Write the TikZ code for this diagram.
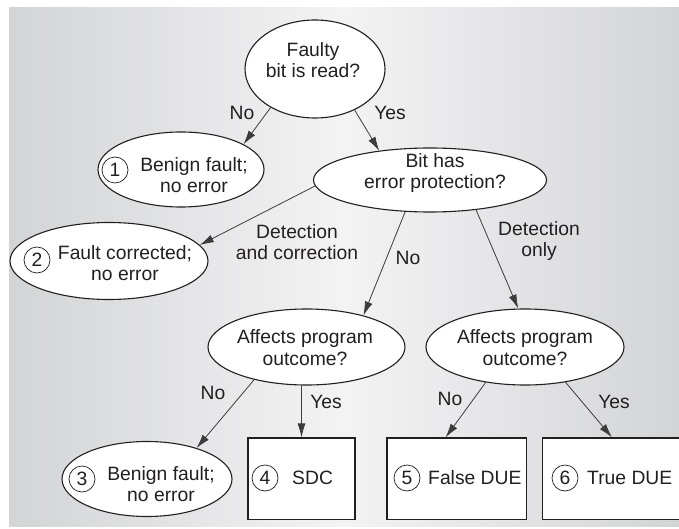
\documentclass[tikz,border=0pt]{standalone}
\usepackage{fontspec}
\setmainfont{Liberation Sans}
\usepackage{tikz}
\usetikzlibrary{calc,shapes,arrows.meta,positioning}

\definecolor{ink}{HTML}{231F20}
\definecolor{wire}{HTML}{3C3C3C}
\definecolor{panelside}{HTML}{D3D4D6}
\definecolor{panelmid}{HTML}{F3F3F4}

\tikzset{
  question/.style={ellipse,draw=ink,fill=white,line width=1.1pt,inner sep=0pt},
  outcome/.style={rectangle,draw=ink,fill=white,line width=1.1pt,inner sep=0pt},
  txt/.style={align=center,text=ink,inner sep=0pt,font=\fontsize{19.3}{21.5}\selectfont},
  lbl/.style={text=ink,inner sep=0pt,font=\fontsize{19.3}{21.5}\selectfont},
  num/.style={circle,draw=ink,line width=0.7pt,minimum size=26pt,inner sep=0pt,text=ink,font=\fontsize{19.3}{21}\selectfont},
  arr/.style={draw=wire,line width=0.8pt,-{Latex[length=14pt,width=8pt]}},
}

\begin{document}
\begin{tikzpicture}[x=1pt,y=-1pt]
  \useasboundingbox (0,0) rectangle (679,529);
  \shade[left color=panelside,right color=panelside,middle color=panelmid] (9,7.5) rectangle (679,526);

  \node[question,minimum width=140pt,minimum height=98pt] (read) at (315,69) {};
  \node[txt] (read-t) at (313,60) {Faulty\\bit is read?};
  \node[question,minimum width=166pt,minimum height=75pt] (benign1) at (181,169.5) {};
  \node[txt] (benign1-t) at (194,175) {Benign fault;\\no error};
  \node[question,minimum width=233pt,minimum height=64pt] (protect) at (430,180) {};
  \node[txt] (protect-t) at (435,173) {Bit has\\error protection?};
  \node[question,minimum width=198pt,minimum height=77pt] (corrected) at (109,261) {};
  \node[txt] (corrected-t) at (125,263) {Fault corrected;\\no error};
  \node[question,minimum width=197pt,minimum height=76pt] (affL) at (306.5,347) {};
  \node[txt] (affL-t) at (305,347.5) {Affects program\\outcome?};
  \node[question,minimum width=198pt,minimum height=76pt] (affR) at (525,347) {};
  \node[txt] (affR-t) at (525,347.5) {Affects program\\outcome?};
  \node[question,minimum width=170pt,minimum height=75pt] (benign3) at (147,479) {};
  \node[txt] (benign3-t) at (161,484) {Benign fault;\\no error};

  \node[outcome,minimum width=107pt,minimum height=81.5pt] (sdc) at (301.5,478.7) {};
  \node[outcome,minimum width=139.5pt,minimum height=81.5pt] (falsedue) at (456.7,478.7) {};
  \node[outcome,minimum width=139.5pt,minimum height=81.5pt] (truedue) at (612,478.7) {};
  \node[lbl,anchor=west] (sdc-t) at (292,478) {SDC};
  \node[lbl,anchor=west] (falsedue-t) at (428,478) {False DUE};
  \node[lbl,anchor=west] (truedue-t) at (587,478) {True DUE};

  \foreach \n/\x/\y in {1/115/170,2/37/260,3/82/479,4/265/478,5/407/478,6/565/478}{
    \node[num] (num\n) at (\x,\y) {\n};
  }

  \draw[arr] (read.221) -- (benign1.22);
  \draw[arr] (read.314) -- (protect.150);
  \draw[arr] (protect.183) -- (corrected.10);
  \draw[arr] (protect.232) -- (affL.29);
  \draw[arr] (protect.327) -- (affR.100);
  \draw[arr] (affL.212) -- (benign3.32);
  \draw[arr] (affL.south -| sdc.north) -- (sdc.north);
  \draw[arr] (affR.222) -- (falsedue.105);
  \draw[arr] (affR.319) -- (truedue.north);

  \node[lbl] (no-a) at (242,113) {No};
  \node[lbl] (yes-a) at (390,113) {Yes};
  \node[txt] (dc) at (297,242) {Detection\\and correction};
  \node[lbl] (no-b) at (408,258) {No};
  \node[txt] (donly) at (539,241) {Detection\\only};
  \node[lbl] (no-c) at (213,393) {No};
  \node[lbl] (yes-c) at (326,401.5) {Yes};
  \node[lbl] (no-d) at (450,399) {No};
  \node[lbl] (yes-d) at (614,401.5) {Yes};
\end{tikzpicture}
\end{document}
